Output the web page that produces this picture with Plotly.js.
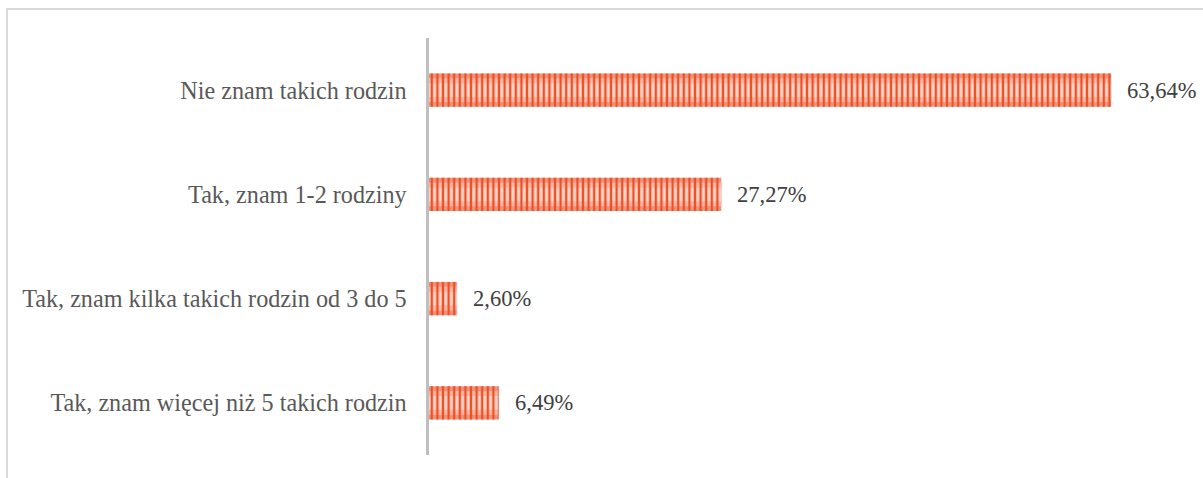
<!DOCTYPE html>
<html>
<head>
<meta charset="utf-8">
<script src="https://cdn.plot.ly/plotly-3.0.1.min.js"></script>
<style>
  html, body { margin: 0; padding: 0; background: #ffffff; }
  #wrap { position: relative; width: 1203px; height: 478px; overflow: hidden; }
  #frame { position: absolute; left: 6px; top: 8px; width: 1300px; height: 600px;
           border-left: 2px solid #d9d9d9; border-top: 2px solid #d9d9d9; pointer-events: none; }
  #chart { position: absolute; left: 0; top: 0; width: 1203px; height: 478px; }
</style>
</head>
<body>
<div id="wrap">
  <div id="chart"></div>
  <div id="frame"></div>
</div>
<script>
// Data (top to bottom as shown)
const categories = [
  "Nie znam takich rodzin",
  "Tak, znam 1-2 rodziny",
  "Tak, znam kilka takich rodzin od 3 do 5",
  "Tak, znam więcej niż 5 takich rodzin"
];
const values = [63.64, 27.27, 2.60, 6.49];
const valueLabels = ["63,64%", "27,27%", "2,60%", "6,49%"];

const serif = "Liberation Serif, Times New Roman, serif";

const base = {
  type: "bar",
  orientation: "h",
  y: categories,
  x: values,
  hoverinfo: "skip",
  showlegend: false
};

const traces = [
  Object.assign({}, base, { width: 0.32, marker: { color: "#ec967f", line: { width: 0 } } }),
  Object.assign({}, base, { width: 0.23, marker: { color: "#f4b9a7", line: { width: 0 } } }),
  Object.assign({}, base, { width: 0.13, marker: { color: "#f9d5ca", line: { width: 0 } } }),
  Object.assign({}, base, {
    width: 0.32,
    marker: {
      color: "#f04e23",
      line: { width: 0 },
      pattern: { shape: "|", fillmode: "replace", fgcolor: "#f04e23", size: 5.6, solidity: 0.42 }
    }
  })
];

const annotations = categories.map((c, i) => ({
  x: values[i], y: c, xref: "x", yref: "y",
  text: valueLabels[i], showarrow: false,
  xanchor: "left", yanchor: "middle", xshift: 14,
  font: { family: serif, size: 22.5, color: "#404040" }
}));

const layout = {
  width: 1203, height: 478,
  margin: { l: 429, r: 28, t: 38, b: 23 },
  paper_bgcolor: "rgba(0,0,0,0)",
  plot_bgcolor: "rgba(0,0,0,0)",
  barmode: "overlay",
  bargap: 0.68,
  xaxis: {
    range: [0, 69.6], visible: false, showgrid: false, zeroline: false, fixedrange: true
  },
  yaxis: {
    autorange: "reversed",
    categoryorder: "array", categoryarray: categories,
    showline: true, linecolor: "#bfbfbf", linewidth: 3.5,
    ticks: "", showgrid: false, zeroline: false,
    ticklabelstandoff: 14,
    tickfont: { family: serif, size: 24.2, color: "#595959" }
  },
  annotations: annotations
};

Plotly.newPlot("chart", traces, layout, { displayModeBar: false, staticPlot: true });
</script>
</body>
</html>
